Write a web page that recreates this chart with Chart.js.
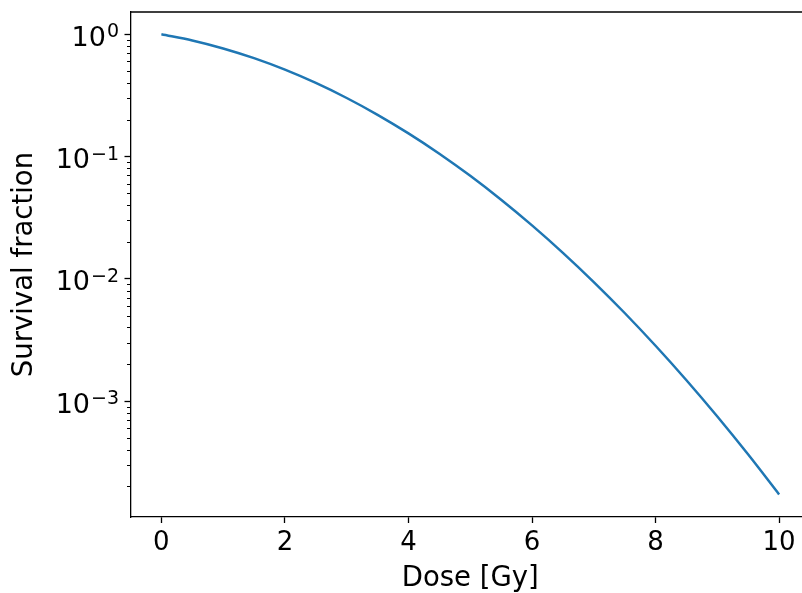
<!DOCTYPE html>
<html>
<head>
<meta charset="utf-8">
<script src="https://cdn.jsdelivr.net/npm/chart.js@4/dist/chart.umd.min.js"></script>
<style>
  html, body { margin: 0; padding: 0; overflow: hidden; background: #fff; }
  #wrap { width: 812px; height: 593px; }
</style>
</head>
<body>
<div id="wrap"><canvas id="c" width="812" height="593"></canvas></div>
<script>
// Dose values (Gy) and survival fraction
const doses = [0, 0.5, 1, 1.5, 2, 2.5, 3, 3.5, 4, 4.5, 5, 5.5, 6, 6.5, 7, 7.5, 8, 8.5, 9, 9.5, 10];
const survival = [1.0, 0.8899, 0.7659, 0.6376, 0.5134, 0.3998, 0.3012, 0.2194, 0.1546, 0.1054,
                  0.06948, 0.04430, 0.02732, 0.01630, 0.009404, 0.005248, 0.002831, 0.001479,
                  0.0007466, 0.0003646, 0.0001722];
const xTicks = [0, 2, 4, 6, 8, 10];
const yMajorTicks = [1, 0.1, 0.01, 0.001];
const yTickBase = ['10', '10', '10', '10'];
const yTickExp = ['0', '\u22121', '\u22122', '\u22123'];
const xTitle = 'Dose [Gy]';
const yTitle = 'Survival fraction';

const Y_MIN = 1.125e-4, Y_MAX = 1.522;
const FONT = "'DejaVu Sans', sans-serif";

Chart.defaults.font.family = FONT;
Chart.defaults.color = '#000';

const frameAndMinor = {
  id: 'frameAndMinor',
  afterDraw(chart) {
    const ctx = chart.ctx;
    const a = chart.chartArea;
    const ys = chart.scales.y;
    ctx.save();
    ctx.strokeStyle = '#000';
    // minor ticks on log axis
    ctx.lineWidth = 1.0;
    for (let e = -5; e <= 1; e++) {
      for (let m = 2; m <= 9; m++) {
        const v = m * Math.pow(10, e);
        if (v < Y_MIN || v > Y_MAX) continue;
        const py = Math.round(ys.getPixelForValue(v)) + 0.5;
        ctx.beginPath();
        ctx.moveTo(a.left - 3.5, py);
        ctx.lineTo(a.left, py);
        ctx.stroke();
      }
    }
    // top and right spines
    ctx.lineWidth = 1.3;
    ctx.beginPath();
    ctx.moveTo(a.left, a.top);
    ctx.lineTo(a.right, a.top);
    ctx.lineTo(a.right, a.bottom);
    ctx.stroke();
    // y tick labels as 10 with superscript exponent
    const mainSize = 27, expSize = 19;
    const rightX = 119;
    ctx.fillStyle = '#000';
    ctx.textBaseline = 'alphabetic';
    ctx.textAlign = 'left';
    yMajorTicks.forEach((v, i) => {
      const py = ys.getPixelForValue(v);
      ctx.font = mainSize + 'px ' + FONT;
      const wMain = ctx.measureText(yTickBase[i]).width;
      ctx.font = expSize + 'px ' + FONT;
      const wExp = ctx.measureText(yTickExp[i]).width;
      const x0 = rightX - wMain - wExp - 1;
      ctx.font = mainSize + 'px ' + FONT;
      ctx.fillText(yTickBase[i], x0, py + 11.5);
      ctx.font = expSize + 'px ' + FONT;
      ctx.fillText(yTickExp[i], x0 + wMain + 1, py + 3);
    });
    ctx.restore();
  }
};

new Chart(document.getElementById('c'), {
  type: 'line',
  data: {
    datasets: [{
      data: doses.map((d, i) => ({ x: d, y: survival[i] })),
      borderColor: '#1f77b4',
      borderWidth: 2.5,
      pointRadius: 0,
      fill: false,
      cubicInterpolationMode: 'monotone'
    }]
  },
  options: {
    responsive: false,
    animation: false,
    devicePixelRatio: 1,
    layout: { padding: { top: 12, right: 2, bottom: 0, left: 0 } },
    plugins: { legend: { display: false }, tooltip: { enabled: false } },
    scales: {
      x: {
        type: 'linear',
        min: -0.5,
        max: 10.5,
        afterBuildTicks: s => { s.ticks = xTicks.map(v => ({ value: v })); },
        afterFit: s => { s.height = 76; s.paddingLeft = 0; s.paddingRight = 0; s.paddingTop = 0; s.paddingBottom = 0; },
        grid: { drawOnChartArea: false, drawTicks: true, tickLength: 6, tickWidth: 1.3, tickColor: '#000' },
        border: { display: true, color: '#000', width: 1.3 },
        ticks: { font: { size: 26 }, color: '#000', padding: 5, maxRotation: 0, autoSkip: false,
                 callback: v => String(v) },
        title: { display: true, text: xTitle, font: { size: 27.5, lineHeight: 1.03 }, color: '#000',
                 padding: { top: 0, bottom: 0 } }
      },
      y: {
        type: 'logarithmic',
        min: Y_MIN,
        max: Y_MAX,
        bounds: 'data',
        afterBuildTicks: s => { s.ticks = yMajorTicks.map(v => ({ value: v })); },
        afterFit: s => { s.width = 130.5; s.paddingLeft = 0; s.paddingRight = 0; s.paddingTop = 0; s.paddingBottom = 0; },
        grid: { drawOnChartArea: false, drawTicks: true, tickLength: 6, tickWidth: 1.3, tickColor: '#000' },
        border: { display: true, color: '#000', width: 1.3 },
        ticks: { display: false },
        title: { display: true, text: yTitle, font: { size: 27.5, lineHeight: 1.2 }, color: '#000',
                 padding: { top: 8.6, bottom: 0 } }
      }
    }
  },
  plugins: [frameAndMinor]
});
</script>
</body>
</html>
